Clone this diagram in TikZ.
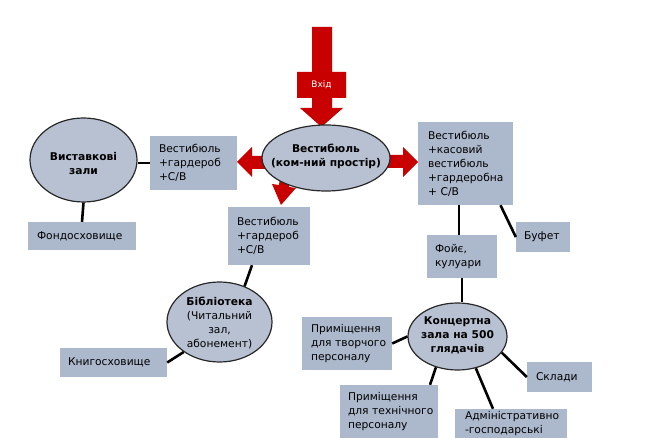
\documentclass[tikz,border=0pt]{standalone}
\usepackage{fontspec}
\setmainfont{DejaVu Sans}
\usetikzlibrary{calc,shapes.geometric}
\definecolor{boxcol}{RGB}{172,184,204}
\definecolor{ellcol}{RGB}{184,193,210}
\definecolor{arrred}{RGB}{200,0,0}
\definecolor{edgecol}{RGB}{40,40,40}
\tikzset{
  txt/.style={font=\fontsize{10.7}{14}\selectfont},
  bx/.style={txt, fill=boxcol, inner sep=0pt, align=left},
  ell/.style={ellipse, draw=edgecol, line width=1.2pt, fill=ellcol, inner sep=0pt},
  etxt/.style={txt, align=center, inner sep=0pt},
  conn/.style={line width=2.6pt, black},
  blockarrow/.style={fill=arrred, draw=none},
}
\begin{document}
\begin{tikzpicture}[x=1pt,y=-1pt]
\useasboundingbox (0,0) rectangle (662,438);
\clip (0,0) rectangle (662,438);
\fill[white] (0,0) rectangle (662,438);

% ---- boxes ----
\node[bx, minimum width=87, minimum height=54, text width=69] (lbox) at (193.5,163) {Вестибюль\\+гардероб\\+С/В};
\node[bx, minimum width=82, minimum height=58, text width=64] (mbox) at (269,236) {Вестибюль\\+гардероб\\+С/В};
\node[bx, minimum width=95, minimum height=83, text width=75] (rbox) at (465.5,163.5) {Вестибюль\\+касовий\\вестибюль\\+гардеробна\\+~С/В};
\node[bx, minimum width=108, minimum height=28, text width=90] (fond) at (82,236) {Фондосховище};
\node[bx, minimum width=107, minimum height=29, text width=91] (knig) at (113.5,362.5) {Книгосховище};
\node[bx, minimum width=70, minimum height=43, text width=54] (foye) at (462,256.5) {Фойє,\\кулуари};
\node[bx, minimum width=54, minimum height=30, text width=38] (bufet) at (543,237) {Буфет};
\node[bx, minimum width=90, minimum height=53, text width=72] (tvor) at (347,343.5) {Приміщення\\для~творчого\\персоналу};
\node[bx, minimum width=98, minimum height=53, text width=82] (tech) at (389,411.5) {Приміщення\\для~технічного\\персоналу};
\node[bx, minimum width=112, minimum height=29, text width=92] (admin) at (511,423.5) {Адміністративно\\-господарські};
\node[bx, minimum width=65, minimum height=30, text width=47] (sklady) at (559.5,377) {Склади};

% ---- red block arrows ----
\fill[blockarrow] (312,27) -- (332,27) -- (332,72) -- (346,72) -- (346,98) -- (332,98)
  -- (332,108) -- (343,108) -- (321.5,127) -- (300,108) -- (312,108) -- (312,98)
  -- (297,98) -- (297,72) -- (312,72) -- cycle;
\fill[blockarrow] (237,162) -- (252,147) -- (252,156) -- (272,156) -- (272,169)
  -- (252,169) -- (252,177) -- cycle;
\fill[blockarrow] (418,162) -- (403,147) -- (403,155) -- (380,155) -- (380,168)
  -- (403,168) -- (403,177) -- cycle;
\fill[blockarrow] (281,205) -- (296,188) -- (289,187) -- (291,170) -- (281,169)
  -- (279,185) -- (272,184) -- cycle;

% ---- ellipses ----
\node[ell, minimum width=128, minimum height=66] (vest) at (326,158) {};
\node[etxt] (vest-t) at (326,156.5) {\textbf{Вестибюль}\\\textbf{(ком-ний простір)}};
\node[ell, minimum width=107, minimum height=84] (vyst) at (83.5,160) {};
\node[etxt] (vyst-t) at (83.5,164) {\textbf{Виставкові}\\\textbf{зали}};
\node[ell, minimum width=105, minimum height=80] (bibl) at (219.5,322) {};
\node[etxt] (bibl-t) at (219.5,323) {\textbf{Бібліотека}\\(Читальний\\зал,\\абонемент)};
\node[ell, minimum width=99, minimum height=67] (konc) at (457.5,336.5) {};
\node[etxt] (konc-t) at (457.5,335.5) {\textbf{Концертна}\\\textbf{зала на 500}\\\textbf{глядачів}};

\node[txt, text=white, font=\fontsize{9}{10}\selectfont, inner sep=0pt] (vkhid) at (321.5,85) {Вхід};

% ---- connectors ----
\draw[conn] (lbox.west) -- (lbox.west -| vyst.east);
\draw[conn] (vyst.south) -- (fond.north);
\draw[conn] ($(mbox.south)+(-17,0)$) -- (bibl.55);
\draw[conn] (knig.east) -- (bibl.220);
\draw[conn] ($(foye.north)+(-3,0)$) -- ($(foye.north |- rbox.south)+(-3,0)$);
\draw[conn] (rbox.-50) -- (bufet.west);
\draw[conn] (foye.south) -- (foye.south |- konc.north);
\draw[conn] (tvor.east) -- (konc.west);
\draw[conn] ($(tech.north)+(41,0)$) -- (konc.235);
\draw[conn] ($(admin.north)+(-18,0)$) -- (konc.-60);
\draw[conn] (sklady.west) -- (konc.-20);
\end{tikzpicture}
\end{document}
